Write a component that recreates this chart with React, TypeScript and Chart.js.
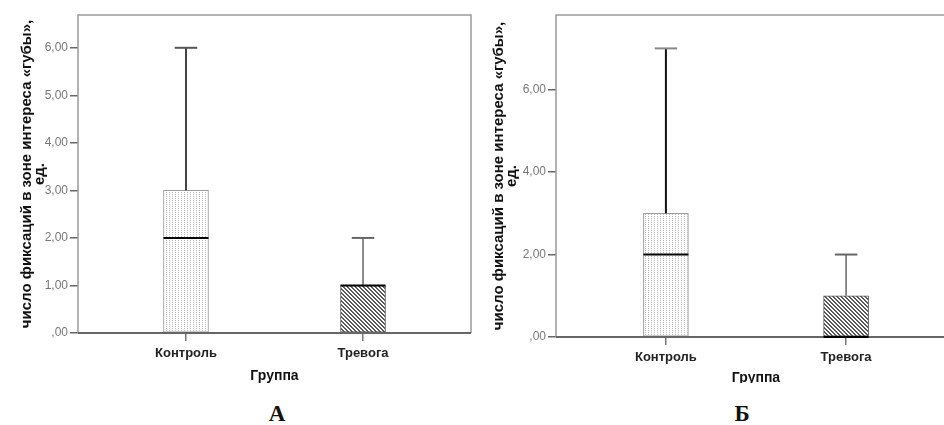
import React, { useEffect, useRef } from 'react';
import { Chart, registerables } from 'chart.js';
Chart.register(...registerables);

// ---- data ----
const categories = ['Контроль', 'Тревога'];
const categoryIndex = [0, 1];

// Panel A
const aQ1 = [0, 0];
const aQ3 = [3, 1];
const aMedian = [2, 1];
const aMin = [0, 0];
const aMax = [6, 2];
const aYMax = 6.69;
const aYStep = 1;

// Panel B
const bQ1 = [0, 0];
const bQ3 = [3, 1];
const bMedian = [2, 0];
const bMin = [0, 0];
const bMax = [7, 2];
const bYMax = 7.81;
const bYStep = 2;

const yTitle = ['число фиксаций в зоне интереса «губы»,', 'ед.'];
const xTitle = 'Группа';
const panelLabels = ['А', 'Б'];

function makeStipple() {
  const c = document.createElement('canvas');
  c.width = 3;
  c.height = 2;
  const g = c.getContext('2d')!;
  g.fillStyle = '#ffffff';
  g.fillRect(0, 0, 3, 2);
  g.fillStyle = '#bcbcbc';
  g.fillRect(1, 0, 1, 1);
  return g.createPattern(c, 'repeat')!;
}

function makeHatch() {
  const c = document.createElement('canvas');
  c.width = 4;
  c.height = 4;
  const g = c.getContext('2d')!;
  g.fillStyle = '#ffffff';
  g.fillRect(0, 0, 4, 4);
  g.fillStyle = '#5a5a5a';
  for (let i = 0; i < 4; i++) {
    g.fillRect(i, i, 1, 1);
    g.fillRect((i + 1) % 4, i, 1, 1);
  }
  return g.createPattern(c, 'repeat')!;
}

const fmt = (v: number) => (v === 0 ? ',00' : v.toFixed(2).replace('.', ','));

interface PanelCfg {
  q1: number[];
  q3: number[];
  median: number[];
  min: number[];
  max: number[];
  yMax: number;
  yStep: number;
  canvasLeft: number;
  canvasWidth: number;
  canvasHeight: number;
  clipHeight: number;
  padRight: number;
  yAxisWidth: number;
  xAxisHeight: number;
  yTitlePad: number;
  xTitlePad: number;
  whiskerColors: string[];
  whiskerWidths: number[];
  capColors: string[];
}

function makeBoxPlugin(cfg: PanelCfg) {
  return {
    id: 'boxwhisk',
    afterDatasetsDraw(chart: any) {
      const { ctx, scales } = chart;
      const x = scales.x;
      const y = scales.y;
      const meta = chart.getDatasetMeta(0);
      const area = chart.chartArea;
      ctx.save();
      // frame
      ctx.strokeStyle = '#9a9a9a';
      ctx.lineWidth = 1.5;
      ctx.beginPath();
      ctx.moveTo(area.left, area.bottom);
      ctx.lineTo(area.left, area.top);
      ctx.lineTo(area.right, area.top);
      ctx.lineTo(area.right, area.bottom);
      ctx.stroke();
      ctx.strokeStyle = '#666666';
      ctx.lineWidth = 2;
      ctx.beginPath();
      ctx.moveTo(area.left, area.bottom);
      ctx.lineTo(area.right, area.bottom);
      ctx.stroke();

      categoryIndex.forEach((ci, i) => {
        const bar = meta.data[i];
        const w = bar.width;
        const cx = x.getPixelForValue(ci);
        const pMax = y.getPixelForValue(cfg.max[i]);
        const pMin = y.getPixelForValue(cfg.min[i]);
        const pQ1 = y.getPixelForValue(cfg.q1[i]);
        const pQ3 = y.getPixelForValue(cfg.q3[i]);
        const pMed = y.getPixelForValue(cfg.median[i]);
        ctx.strokeStyle = cfg.whiskerColors[i];
        ctx.lineWidth = cfg.whiskerWidths[i];
        ctx.beginPath();
        if (cfg.max[i] > cfg.q3[i]) {
          ctx.moveTo(cx, pQ3);
          ctx.lineTo(cx, pMax);
        }
        if (cfg.min[i] < cfg.q1[i]) {
          ctx.moveTo(cx, pQ1);
          ctx.lineTo(cx, pMin);
        }
        ctx.stroke();
        ctx.strokeStyle = cfg.capColors[i];
        ctx.lineWidth = 2;
        ctx.beginPath();
        if (cfg.max[i] > cfg.q3[i]) {
          ctx.moveTo(cx - w / 4, pMax);
          ctx.lineTo(cx + w / 4, pMax);
        }
        if (cfg.min[i] < cfg.q1[i]) {
          ctx.moveTo(cx - w / 4, pMin);
          ctx.lineTo(cx + w / 4, pMin);
        }
        ctx.stroke();
        ctx.strokeStyle = '#000000';
        ctx.lineWidth = 2;
        ctx.beginPath();
        ctx.moveTo(cx - w / 2, pMed);
        ctx.lineTo(cx + w / 2, pMed);
        ctx.stroke();
      });
      ctx.restore();
    },
  };
}

function Panel({ cfg }: { cfg: PanelCfg }) {
  const ref = useRef<HTMLCanvasElement>(null);
  useEffect(() => {
    const canvas = ref.current!;
    const chart = new Chart(canvas, {
      type: 'bar',
      data: {
        datasets: [
          {
            data: categoryIndex.map((ci, i) => ({ x: ci, y: [cfg.q1[i], cfg.q3[i]] })) as any,
            backgroundColor: [makeStipple(), makeHatch()] as any,
            borderColor: ['#9a9a9a', '#555555'],
            borderWidth: 1,
            borderSkipped: false,
            barThickness: 45,
          },
        ],
      },
      options: {
        animation: false,
        responsive: false,
        devicePixelRatio: 1,
        events: [],
        layout: { padding: { left: 0, top: 15, right: cfg.padRight, bottom: 0 } },
        plugins: { legend: { display: false }, tooltip: { enabled: false } },
        scales: {
          x: {
            type: 'linear',
            min: -0.61,
            max: 1.61,
            offset: false,
            afterBuildTicks: (s: any) => {
              s.ticks = categoryIndex.map((v) => ({ value: v }));
            },
            afterFit: (s: any) => {
              s.height = cfg.xAxisHeight;
            },
            grid: {
              offset: false,
              drawOnChartArea: false,
              drawTicks: true,
              tickLength: 8,
              color: '#777777',
              lineWidth: 1.5,
            },
            border: { display: false },
            ticks: {
              autoSkip: false,
              maxRotation: 0,
              padding: 5,
              color: '#222222',
              font: { family: 'Liberation Sans, Arial, sans-serif', size: 13, weight: 'bold' },
              callback: (_v: any, idx: number) => categories[idx],
            },
            title: {
              display: true,
              text: xTitle,
              color: '#111111',
              font: { family: 'Liberation Sans, Arial, sans-serif', size: 14, weight: 'bold' },
              padding: { top: 0, bottom: cfg.xTitlePad },
            },
          },
          y: {
            type: 'linear',
            min: 0,
            max: cfg.yMax,
            afterFit: (s: any) => {
              s.width = cfg.yAxisWidth;
            },
            grid: {
              drawOnChartArea: false,
              drawTicks: true,
              tickLength: 8,
              color: '#666666',
              lineWidth: 1.5,
            },
            border: { display: false },
            ticks: {
              stepSize: cfg.yStep,
              includeBounds: false,
              padding: 2,
              color: '#777777',
              font: { family: 'Liberation Sans, Arial, sans-serif', size: 12 },
              callback: (v: any) => fmt(Number(v)),
            },
            title: {
              display: true,
              text: yTitle,
              color: '#111111',
              font: { family: 'Liberation Sans, Arial, sans-serif', size: 15, weight: 'bold', lineHeight: 0.9 },
              padding: { top: cfg.yTitlePad, bottom: 0 },
            },
          },
        },
      },
      plugins: [makeBoxPlugin(cfg)],
    } as any);
    return () => chart.destroy();
  }, []);
  return (
    <div
      style={{
        position: 'absolute',
        left: cfg.canvasLeft,
        top: 0,
        width: cfg.canvasWidth,
        height: cfg.clipHeight,
        overflow: 'hidden',
      }}
    >
      <canvas ref={ref} width={cfg.canvasWidth} height={cfg.canvasHeight} style={{ display: 'block' }} />
    </div>
  );
}

const panelA: PanelCfg = {
  q1: aQ1,
  q3: aQ3,
  median: aMedian,
  min: aMin,
  max: aMax,
  yMax: aYMax,
  yStep: aYStep,
  canvasLeft: 0,
  canvasWidth: 476,
  canvasHeight: 395,
  clipHeight: 395,
  padRight: 5,
  yAxisWidth: 78,
  xAxisHeight: 62,
  yTitlePad: 20,
  xTitlePad: 10,
  whiskerColors: ['#444444', '#666666'],
  whiskerWidths: [2, 1.5],
  capColors: ['#555555', '#666666'],
};

const panelB: PanelCfg = {
  q1: bQ1,
  q3: bQ3,
  median: bMedian,
  min: bMin,
  max: bMax,
  yMax: bYMax,
  yStep: bYStep,
  canvasLeft: 476,
  canvasWidth: 490,
  canvasHeight: 395,
  clipHeight: 383,
  padRight: 10,
  yAxisWidth: 80,
  xAxisHeight: 58,
  yTitlePad: 16,
  xTitlePad: 8,
  whiskerColors: ['#111111', '#666666'],
  whiskerWidths: [2, 1.5],
  capColors: ['#888888', '#666666'],
};

const letterStyle = (cx: number): React.CSSProperties => ({
  position: 'absolute',
  left: cx - 50,
  top: 402,
  width: 100,
  textAlign: 'center',
  fontFamily: '"Liberation Serif", "Times New Roman", serif',
  fontWeight: 'bold',
  fontSize: 23,
  lineHeight: '23px',
  color: '#111',
});

export default function App() {
  return (
    <div
      style={{
        position: 'absolute',
        left: 0,
        top: 0,
        width: 944,
        height: 425,
        overflow: 'hidden',
        background: '#ffffff',
      }}
    >
      <Panel cfg={panelA} />
      <Panel cfg={panelB} />
      <div style={letterStyle(277)}>{panelLabels[0]}</div>
      <div style={letterStyle(742)}>{panelLabels[1]}</div>
    </div>
  );
}
